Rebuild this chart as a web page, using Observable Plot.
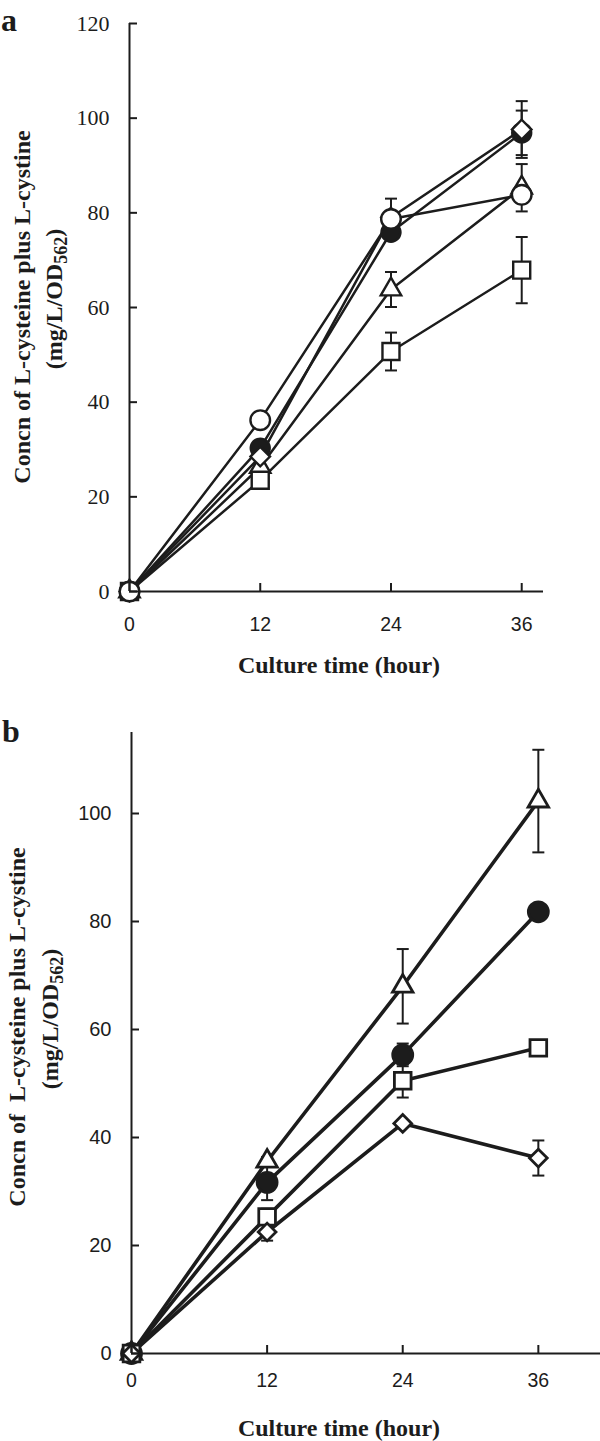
<!DOCTYPE html>
<html>
<head>
<meta charset="utf-8">
<script src="https://cdn.jsdelivr.net/npm/d3@7"></script>
<script src="https://cdn.jsdelivr.net/npm/@observablehq/plot@0.6"></script>
<style>
  body { margin: 0; background: #fff; }
  #chart svg { display: block; }
</style>
</head>
<body>
<div id="chart"></div>
<script>
// ---------- data ----------
const hours = [0, 12, 24, 36];
const xTicks = [0, 12, 24, 36];
const yTicksA = [0, 20, 40, 60, 80, 100, 120];
const yTicksB = [0, 20, 40, 60, 80, 100];

const yTitle1A = "Concn of L-cysteine plus L-cystine";
const yTitle1B = "Concn of\u00a0 L-cysteine plus L-cystine";
const yTitle2Pre = "(mg/L/OD";
const yTitle2Sub = "562";
const yTitle2Post = ")";
const xTitle = "Culture time (hour)";

// panel a
const aFilledCircle = [0, 30.3, 75.9, 96.9];
const aFilledCircleErr = [0, 0, 1.5, 4.7];
const aTriangle = [0, 26.3, 63.8, 85.3];
const aTriangleErr = [0, 0, 3.7, 5];
const aSquare = [0, 23.5, 50.7, 67.9];
const aSquareErr = [0, 0, 4, 7];
const aDiamond = [0, 28.5, 79.0, 97.6];
const aDiamondErr = [0, 0, 4, 6];
const aOpenCircle = [0, 36.2, 78.7, 83.8];
const aOpenCircleErr = [0, 0, 1.5, 0];

// panel b
const bTriangle = [0, 35.6, 68.0, 102.3];
const bTriangleErr = [0, 0.8, 6.9, 9.5];
const bFilledCircle = [0, 31.7, 55.3, 81.8];
const bFilledCircleErr = [0, 3.3, 2.1, 0];
const bSquare = [0, 25.3, 50.5, 56.6];
const bSquareErr = [0, 1.5, 3.1, 0];
const bDiamond = [0, 22.5, 42.6, 36.2];
const bDiamondErr = [0, 1.6, 0, 3.25];

// ---------- helpers ----------
const INK = "#1c1c1c";
const SERIF = "'Liberation Serif', 'DejaVu Serif', serif";
const SANS = "'Liberation Sans', Arial, sans-serif";

const capSymbol = {
  draw(context, size) {
    const w = Math.sqrt(size / Math.PI);
    context.moveTo(-w, 0);
    context.lineTo(w, 0);
  }
};

function toRows(name, values, errs) {
  return hours.map((h, i) => ({series: name, hour: h, value: values[i], err: errs[i]}));
}

function buildPanel(cfg) {
  const data = cfg.series.flatMap(s => toRows(s.name, s.values, s.errs));
  const errData = data.filter(d => d.err > 0);
  const marks = [
    Plot.line(data, {x: "hour", y: "value", z: "series", stroke: INK, strokeWidth: cfg.lineWidth, strokeLinejoin: "round"}),
    Plot.ruleX(errData, {x: "hour", y1: d => d.value - d.err, y2: d => d.value + d.err, stroke: INK, strokeWidth: 2}),
    Plot.dot(errData, {x: "hour", y: d => d.value + d.err, symbol: capSymbol, r: 6, stroke: INK, strokeWidth: 2, fill: "none"}),
    Plot.dot(errData, {x: "hour", y: d => d.value - d.err, symbol: capSymbol, r: 6, stroke: INK, strokeWidth: 2, fill: "none"}),
  ];
  for (const s of cfg.series) {
    marks.push(Plot.dot(data.filter(d => d.series === s.name), {
      x: "hour", y: "value", symbol: s.symbol, r: s.r,
      fill: s.fill, stroke: INK, strokeWidth: cfg.markStroke
    }));
  }
  marks.push(
    Plot.ruleX([0], {stroke: INK, strokeWidth: 2}),
    Plot.ruleY([0], {stroke: INK, strokeWidth: 2}),
    Plot.axisY(cfg.yTicks, {anchor: "left", tickSize: 0, tickPadding: 20, label: null,
      fontFamily: cfg.yFont, fontSize: cfg.yFontSize}),
    Plot.axisY(cfg.yTicks, {anchor: "left", tickSize: -8, tickFormat: () => "", label: null, strokeWidth: 2}),
    Plot.axisX(xTicks, {anchor: "bottom", tickSize: 0, tickPadding: cfg.xPad, label: null,
      fontFamily: SANS, fontSize: 19.5}),
    Plot.axisX(xTicks, {anchor: "bottom", tickSize: -8, tickFormat: () => "", label: null, strokeWidth: 2})
  );
  const svg = Plot.plot({
    width: 600,
    height: cfg.height,
    marginLeft: cfg.marginLeft,
    marginRight: cfg.marginRight,
    marginTop: cfg.marginTop,
    marginBottom: cfg.marginBottom,
    style: {color: INK, background: "#fff", overflow: "visible"},
    x: {domain: cfg.xDomain},
    y: {domain: cfg.yDomain},
    marks
  });
  const g = d3.select(svg);
  // panel letter
  g.append("text").attr("x", cfg.letterX).attr("y", cfg.letterY)
    .attr("text-anchor", "start")
    .attr("font-family", SERIF).attr("font-weight", "bold").attr("font-size", 32)
    .attr("fill", INK).text(cfg.letter);
  // x title
  g.append("text").attr("x", 339).attr("y", cfg.xTitleY)
    .attr("text-anchor", "middle").attr("dominant-baseline", "central")
    .attr("font-family", SERIF).attr("font-weight", "bold").attr("font-size", 24)
    .attr("fill", INK).text(xTitle);
  // y title (two lines, rotated)
  g.append("text")
    .attr("transform", `translate(${cfg.yTitle1X},${cfg.yTitleY}) rotate(-90)`)
    .attr("text-anchor", "middle").attr("dominant-baseline", "central")
    .attr("font-family", SERIF).attr("font-weight", "bold").attr("font-size", 24)
    .attr("fill", INK).style("white-space", "pre").text(cfg.yTitle1);
  const t2 = g.append("text")
    .attr("transform", `translate(${cfg.yTitle2X},${cfg.yTitleY - 8}) rotate(-90)`)
    .attr("text-anchor", "middle").attr("dominant-baseline", "central")
    .attr("font-family", SERIF).attr("font-weight", "bold").attr("font-size", 24)
    .attr("fill", INK);
  t2.append("tspan").text(yTitle2Pre);
  t2.append("tspan").attr("font-size", 18).attr("dy", 7).text(yTitle2Sub);
  t2.append("tspan").attr("dy", -7).text(yTitle2Post);
  return svg;
}

const panelA = buildPanel({
  letter: "a", letterX: 1, letterY: 31,
  height: 700, marginLeft: 129, marginRight: 57, marginTop: 23, marginBottom: 109,
  xDomain: [0, 38], yDomain: [0, 120], yTicks: yTicksA,
  yFont: SERIF, yFontSize: 22, xPad: 26,
  lineWidth: 2.5, markStroke: 2.4,
  xTitleY: 665, yTitle1X: 22, yTitle2X: 54, yTitleY: 307, yTitle1: yTitle1A,
  series: [
    {name: "filledCircle", values: aFilledCircle, errs: aFilledCircleErr, symbol: "circle", r: 9.5, fill: INK},
    {name: "triangle", values: aTriangle, errs: aTriangleErr, symbol: "triangle", r: 7.6, fill: "#fff"},
    {name: "square", values: aSquare, errs: aSquareErr, symbol: "square", r: 9.6, fill: "#fff"},
    {name: "diamond", values: aDiamond, errs: aDiamondErr, symbol: "diamond2", r: 8.8, fill: "#fff"},
    {name: "openCircle", values: aOpenCircle, errs: aOpenCircleErr, symbol: "circle", r: 9.8, fill: "#fff"}
  ]
});

const panelB = buildPanel({
  letter: "b", letterX: 2, letterY: 42,
  height: 741, marginLeft: 131, marginRight: 0, marginTop: 32, marginBottom: 88,
  xDomain: [0, 41.5], yDomain: [0, 115], yTicks: yTicksB,
  yFont: SANS, yFontSize: 20, xPad: 20,
  lineWidth: 3.6, markStroke: 2.8,
  xTitleY: 728, yTitle1X: 17, yTitle2X: 50, yTitleY: 327, yTitle1: yTitle1B,
  series: [
    {name: "triangle", values: bTriangle, errs: bTriangleErr, symbol: "triangle", r: 7.6, fill: "#fff"},
    {name: "filledCircle", values: bFilledCircle, errs: bFilledCircleErr, symbol: "circle", r: 10, fill: INK},
    {name: "square", values: bSquare, errs: bSquareErr, symbol: "square", r: 9.4, fill: "#fff"},
    {name: "diamond", values: bDiamond, errs: bDiamondErr, symbol: "diamond2", r: 8, fill: "#fff"}
  ]
});

document.getElementById("chart").append(panelA, panelB);
</script>
</body>
</html>
